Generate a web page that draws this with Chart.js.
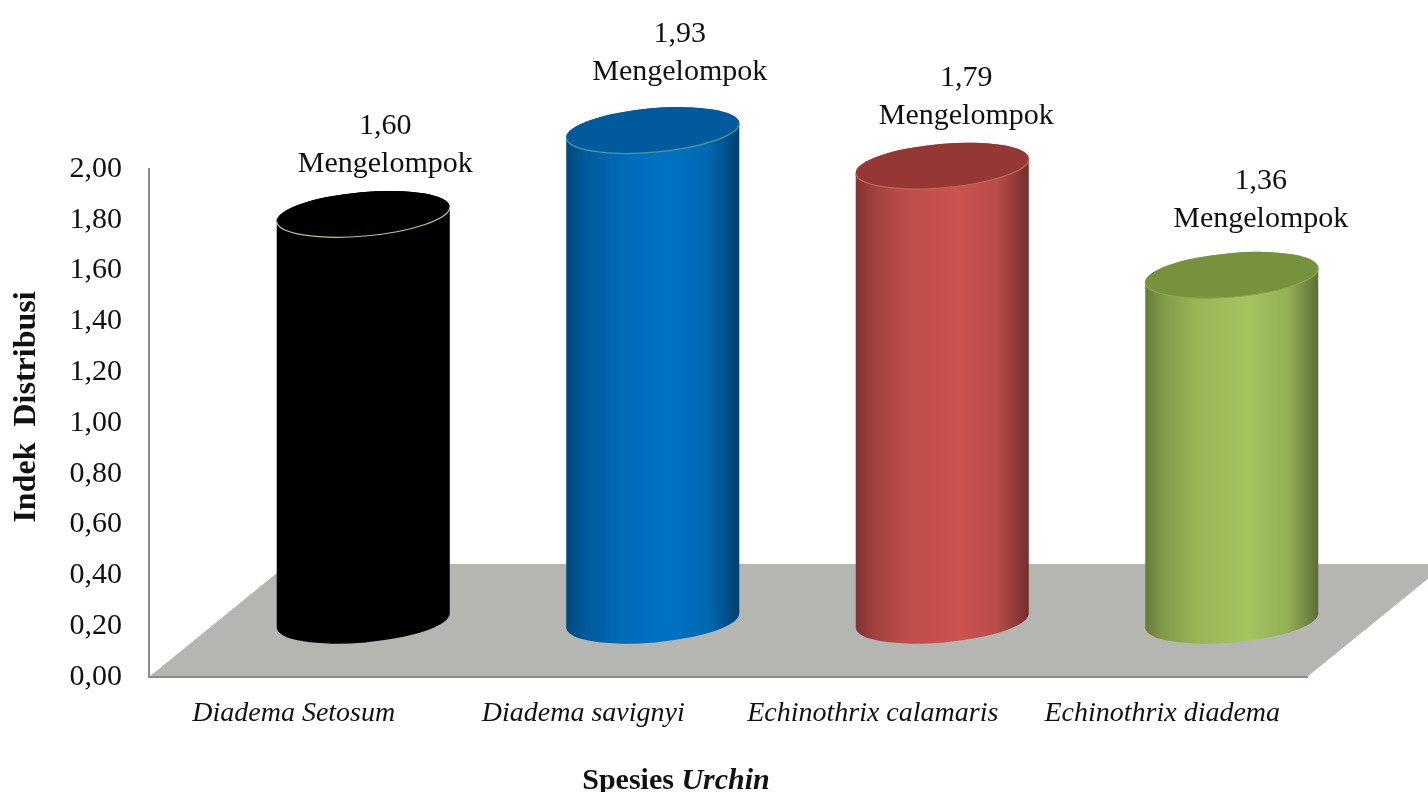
<!DOCTYPE html>
<html>
<head>
<meta charset="utf-8">
<style>
    html, body { margin: 0; padding: 0; background: #fff; overflow: hidden; }
    #wrap { width: 1428px; height: 792px; }
</style>
<script src="https://cdn.jsdelivr.net/npm/chart.js@4/dist/chart.umd.js"></script>
</head>
<body>
<div id="wrap"><canvas id="urchinChart"></canvas></div>
<script>
// Distribution index per urchin species
const categories = ['Diadema Setosum', 'Diadema savignyi', 'Echinothrix calamaris', 'Echinothrix diadema'];
const values = [1.60, 1.93, 1.79, 1.36];
const patterns = ['Mengelompok', 'Mengelompok', 'Mengelompok', 'Mengelompok'];

// Cylinder colours: side, lid and the thin rim around the lid
const sideColors = ['#000000', '#0072c4', '#cc5350', '#a4c45e'];
const lidColors = ['#000000', '#005a9c', '#953735', '#76923c'];
const rimColors = ['#c9bd7c', '#4f9a94', '#c4694f', '#8aa84a'];

// Fine placement of the value labels, relative to the lid centre
const labelShiftX = [22, 27, 24, 29];
const labelShiftY = [-88, -96, -88, -94];

const SERIF = '"Liberation Serif", "Times New Roman", serif';
const FLOOR_COLOR = '#b5b6b1';
const AXIS_COLOR = '#8b8b8b';

// The fake 3D depth: cylinders stand in the middle of the floor
const depthX = 69.5;
const depthY = -56.5;
const tilt = -5 * Math.PI / 180;
const lidHeight = 22;

const comma = v => v.toFixed(2).replace('.', ',');

function shade(hex, k) {
    const n = parseInt(hex.slice(1), 16);
    const c = [n >> 16, (n >> 8) & 255, n & 255].map(v => Math.round(v * k));
    return `rgb(${c[0]},${c[1]},${c[2]})`;
}

// Bar element that paints itself as a tilted cylinder
class CylinderElement extends Chart.BarElement {
    static id = 'cylinder';

    draw(ctx) {
        const { x, y, base, width } = this.getProps(['x', 'y', 'base', 'width'], false);
        const i = this.$context.dataIndex;
        const cx = x + depthX;
        const topY = y + depthY;
        const botY = base + depthY;
        const a = width / 2;
        const b = lidHeight;

        const side = ctx.createLinearGradient(cx - a, 0, cx + a, 0);
        side.addColorStop(0, shade(sideColors[i], 0.62));
        side.addColorStop(0.1, shade(sideColors[i], 0.78));
        side.addColorStop(0.3, shade(sideColors[i], 0.93));
        side.addColorStop(0.6, shade(sideColors[i], 1));
        side.addColorStop(0.82, shade(sideColors[i], 0.9));
        side.addColorStop(1, shade(sideColors[i], 0.56));

        ctx.save();
        ctx.beginPath();
        ctx.ellipse(cx, botY, a, b, tilt, 0, Math.PI);
        ctx.ellipse(cx, topY, a, b, tilt, Math.PI, 2 * Math.PI);
        ctx.closePath();
        ctx.fillStyle = side;
        ctx.fill();

        ctx.beginPath();
        ctx.ellipse(cx, topY, a, b, tilt, 0, 2 * Math.PI);
        ctx.fillStyle = lidColors[i];
        ctx.fill();

        // only the front half of the lid has a visible rim
        ctx.beginPath();
        ctx.ellipse(cx, topY, a, b, tilt, 0, Math.PI);
        ctx.lineWidth = 1.2;
        ctx.strokeStyle = rimColors[i];
        ctx.stroke();
        ctx.restore();
    }
}

class CylinderController extends Chart.BarController {
    static id = 'cylinder';
    static defaults = { dataElementType: 'cylinder' };
}

Chart.register(CylinderElement, CylinderController);

// Floor under the cylinders, drawn before the axes
const floorPlugin = {
    id: 'floor',
    beforeDraw(chart) {
        const { ctx, chartArea } = chart;
        const y0 = chart.scales.y.getPixelForValue(0);
        ctx.save();
        ctx.beginPath();
        ctx.moveTo(chartArea.left, y0);
        ctx.lineTo(chartArea.right, y0);
        ctx.lineTo(chartArea.right + depthX * 2, y0 + depthY * 2);
        ctx.lineTo(chartArea.left + depthX * 2, y0 + depthY * 2);
        ctx.closePath();
        ctx.fillStyle = FLOOR_COLOR;
        ctx.fill();
        ctx.restore();
    }
};

// Value and pattern above each cylinder
const labelPlugin = {
    id: 'valueLabels',
    afterDatasetsDraw(chart) {
        const { ctx } = chart;
        const bars = chart.getDatasetMeta(0).data;
        ctx.save();
        ctx.fillStyle = '#111';
        ctx.textAlign = 'center';
        ctx.textBaseline = 'middle';
        ctx.font = '30px ' + SERIF;
        bars.forEach((bar, i) => {
            const x = bar.x + depthX + labelShiftX[i];
            const y = bar.y + depthY + labelShiftY[i];
            ctx.fillText(comma(values[i]), x, y);
            ctx.fillText(patterns[i], x, y + 38);
        });
        ctx.restore();
    }
};

// Axis titles: the x title mixes bold and bold italic, so it is written in two runs
const axisTitlePlugin = {
    id: 'axisTitles',
    afterDraw(chart) {
        const { ctx } = chart;
        const first = 'Spesies ';
        const second = 'Urchin';
        const bold = 'bold 30px ' + SERIF;
        const boldItalic = 'italic bold 30px ' + SERIF;
        ctx.save();
        ctx.fillStyle = '#111';
        ctx.textBaseline = 'middle';
        ctx.textAlign = 'left';
        ctx.font = bold;
        const w1 = ctx.measureText(first).width;
        ctx.font = boldItalic;
        const w2 = ctx.measureText(second).width;
        const start = 676 - (w1 + w2) / 2;
        ctx.font = bold;
        ctx.fillText(first, start, 781);
        ctx.font = boldItalic;
        ctx.fillText(second, start + w1, 781);

        ctx.translate(27, 407);
        ctx.rotate(-Math.PI / 2);
        ctx.textAlign = 'center';
        ctx.font = 'bold 32px ' + SERIF;
        ctx.fillText('Indek  Distribusi', 0, 0);
        ctx.restore();
    }
};

new Chart(document.getElementById('urchinChart'), {
    type: 'cylinder',
    data: {
        labels: categories,
        datasets: [{
            data: values,
            backgroundColor: sideColors,
            barPercentage: 0.6,
            categoryPercentage: 1,
            clip: false
        }]
    },
    options: {
        responsive: true,
        maintainAspectRatio: false,
        animation: false,
        layout: { padding: { top: 169, right: 121, bottom: 0, left: 0 } },
        plugins: { legend: { display: false }, tooltip: { enabled: false } },
        scales: {
            x: {
                type: 'category',
                offset: true,
                afterFit(scale) { scale.height = 115; },
                grid: { display: false, drawTicks: false },
                border: { color: AXIS_COLOR, width: 2 },
                ticks: {
                    color: '#111',
                    padding: 20,
                    maxRotation: 0,
                    autoSkip: false,
                    font: { family: SERIF, size: 28, style: 'italic' }
                }
            },
            y: {
                type: 'linear',
                min: 0,
                max: 2,
                afterFit(scale) { scale.width = 149; },
                grid: { display: false, drawTicks: false },
                border: { color: AXIS_COLOR, width: 2 },
                ticks: {
                    stepSize: 0.2,
                    color: '#111',
                    padding: 27,
                    callback: v => comma(v),
                    font: { family: SERIF, size: 30 }
                }
            }
        }
    },
    plugins: [floorPlugin, labelPlugin, axisTitlePlugin]
});
</script>
</body>
</html>
